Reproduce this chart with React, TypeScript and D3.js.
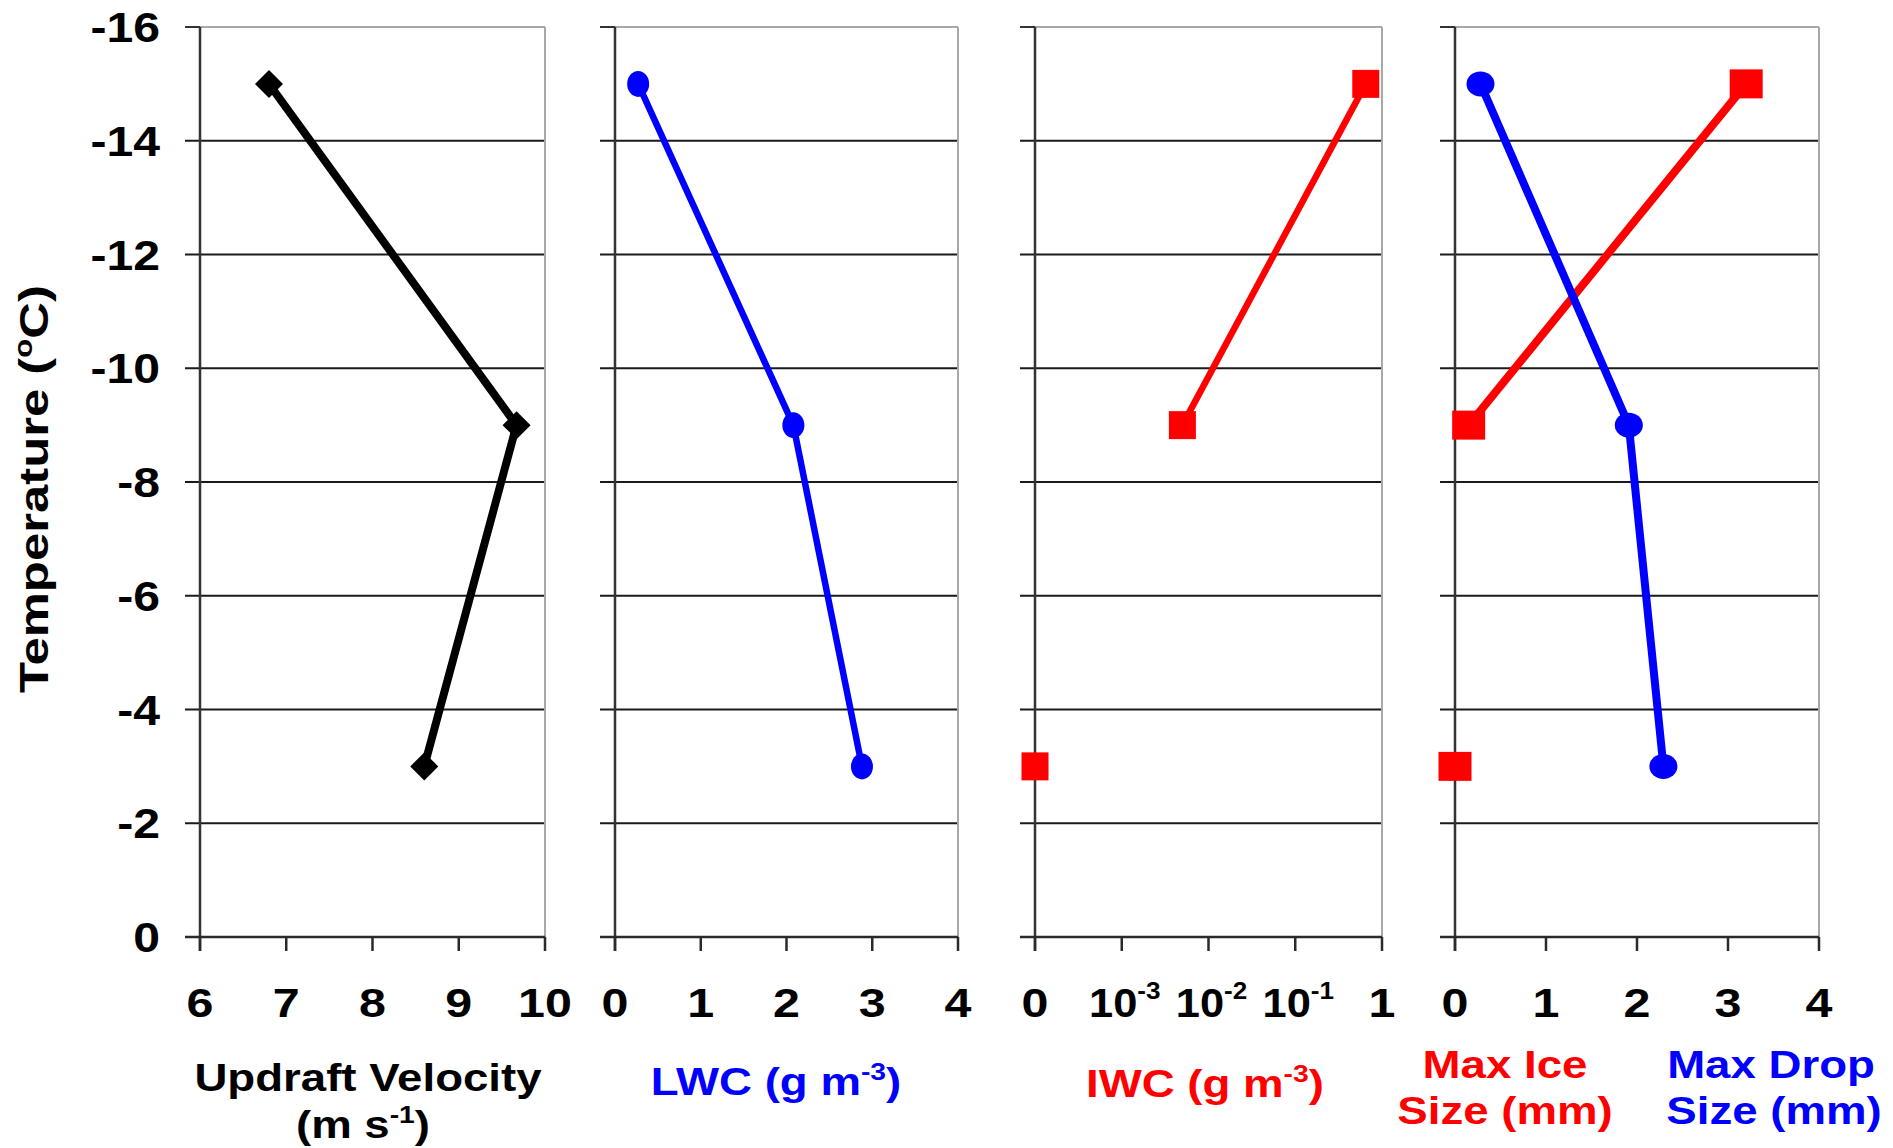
import React from "react";
import * as d3 from "d3";

// ---------- data ----------
const TEMPS = [-15, -9, -3];
const Y_TICKS = [-16, -14, -12, -10, -8, -6, -4, -2, 0];
const GRID_TEMPS = [-14, -12, -10, -8, -6, -4, -2];

const UPDRAFT = [6.8, 9.67, 8.6];
const UPDRAFT_TICKS = [6, 7, 8, 9, 10];

const LWC = [0.27, 2.08, 2.88];
const LWC_TICKS = [0, 1, 2, 3, 4];

const IWC = [0.65, 0.005, 0];
const IWC_TICKS = [0, 0.001, 0.01, 0.1, 1];
const IWC_TICK_LABELS: [string, string][] = [["0", ""], ["10", "-3"], ["10", "-2"], ["10", "-1"], ["1", ""]];

const MAX_ICE = [3.2, 0.15, 0];
const MAX_DROP = [0.28, 1.91, 2.29];
const SIZE_TICKS = [0, 1, 2, 3, 4];

// ---------- layout ----------
const W = 1893;
const H = 1148;
const Y_TOP = 27;
const Y_BOT = 937;
const FONT = "Liberation Sans, Arial, Helvetica, sans-serif";
const BLUE = "#0000ff";
const RED = "#ff0000";

const yScale = d3.scaleLinear().domain([0, -16]).range([Y_BOT, Y_TOP]);

const PANELS = [
  { x0: 200, x1: 545 },
  { x0: 615, x1: 958 },
  { x0: 1035, x1: 1382 },
  { x0: 1455, x1: 1819 },
];

const iwcPos = (v: number) => (v === 0 ? 0 : Math.log10(v) + 4);

function SText(props: any) {
  const { x, y, sx = 1.22, size = 40, fill = "#000", anchor = "middle", children } = props;
  return (
    <g transform={`translate(${x},${y}) scale(${sx},1)`}>
      <text
        x={0}
        y={0}
        textAnchor={anchor}
        fontSize={size}
        fontWeight={700}
        fontFamily={FONT}
        fill={fill}
      >
        {children}
      </text>
    </g>
  );
}

function Sup({ size, text, after, scale = 0.62, rise = 0.4 }: { size: number; text: string; after?: string; scale?: number; rise?: number }) {
  const up = size * rise;
  return (
    <>
      <tspan fontSize={size * scale} dy={-up}>
        {text}
      </tspan>
      {after !== undefined ? <tspan dy={up}>{after}</tspan> : null}
    </>
  );
}

function Frame({ x0, x1, ticks }: { x0: number; x1: number; ticks: number[] }) {
  return (
    <g>
      {GRID_TEMPS.map((t) => (
        <line key={t} x1={x0 - 15} x2={x1} y1={yScale(t)} y2={yScale(t)} stroke="#1a1a1a" strokeWidth={2.2} />
      ))}
      <line x1={x0} x2={x1} y1={Y_TOP} y2={Y_TOP} stroke="#a8a8a8" strokeWidth={2} />
      <line x1={x0 - 15} x2={x0} y1={Y_TOP} y2={Y_TOP} stroke="#333" strokeWidth={2} />
      <line x1={x1} x2={x1} y1={Y_TOP} y2={Y_BOT} stroke="#a8a8a8" strokeWidth={2} />
      <line x1={x0} x2={x0} y1={Y_TOP} y2={Y_BOT + 14} stroke="#333" strokeWidth={2.5} />
      <line x1={x0 - 15} x2={x1} y1={Y_BOT} y2={Y_BOT} stroke="#2a2a2a" strokeWidth={2.5} />
      {ticks.map((tx, i) => (
        <line key={i} x1={tx} x2={tx} y1={Y_BOT} y2={Y_BOT + 14} stroke="#2a2a2a" strokeWidth={2.5} />
      ))}
    </g>
  );
}

function Diamond({ cx, cy, r }: { cx: number; cy: number; r: number }) {
  return <path d={`M${cx},${cy - r} L${cx + r},${cy} L${cx},${cy + r} L${cx - r},${cy} Z`} fill="#000" />;
}

export default function App() {
  const [p1, p2, p3, p4] = PANELS;
  const xUp = d3.scaleLinear().domain([6, 10]).range([p1.x0, p1.x1]);
  const xLwc = d3.scaleLinear().domain([0, 4]).range([p2.x0, p2.x1]);
  const xIwc = d3.scaleLinear().domain([0, 4]).range([p3.x0, p3.x1]);
  const xSize = d3.scaleLinear().domain([0, 4]).range([p4.x0, p4.x1]);

  const upPts = TEMPS.map((t, i) => [xUp(UPDRAFT[i]), yScale(t)] as [number, number]);
  const lwcPts = TEMPS.map((t, i) => [xLwc(LWC[i]), yScale(t)] as [number, number]);
  const iwcPts = TEMPS.map((t, i) => ({ v: IWC[i], p: [xIwc(iwcPos(IWC[i])), yScale(t)] as [number, number] }));
  const icePts = TEMPS.map((t, i) => ({ v: MAX_ICE[i], p: [xSize(MAX_ICE[i]), yScale(t)] as [number, number] }));
  const dropPts = TEMPS.map((t, i) => [xSize(MAX_DROP[i]), yScale(t)] as [number, number]);

  const line = d3.line<[number, number]>();
  const lineDef = d3
    .line<{ v: number; p: [number, number] }>()
    .defined((d) => d.v > 0)
    .x((d) => d.p[0])
    .y((d) => d.p[1]);

  const tickY = 1017;
  const TS = 38;
  const TSX = 1.2;

  return (
    <svg
      width={W}
      height={H}
      viewBox={`0 0 ${W} ${H}`}
      style={{ position: "absolute", left: 0, top: 0, background: "#fff" }}
    >
      <rect x={0} y={0} width={W} height={H} fill="#fff" />

      <Frame x0={p1.x0} x1={p1.x1} ticks={UPDRAFT_TICKS.map((v) => xUp(v))} />
      <Frame x0={p2.x0} x1={p2.x1} ticks={LWC_TICKS.map((v) => xLwc(v))} />
      <Frame x0={p3.x0} x1={p3.x1} ticks={IWC_TICKS.map((v) => xIwc(iwcPos(v)))} />
      <Frame x0={p4.x0} x1={p4.x1} ticks={SIZE_TICKS.map((v) => xSize(v))} />

      {Y_TICKS.map((t) => (
        <SText key={t} x={160} y={yScale(t) + 15} anchor="end" size={43} sx={1.12}>
          {String(t)}
        </SText>
      ))}

      <g transform={`translate(48,489) rotate(-90) scale(1.24,1)`}>
        <text textAnchor="middle" fontSize={41} fontWeight={700} fontFamily={FONT} fill="#000">
          Temperature (<tspan fontSize={25} dy={-16}>o</tspan>
          <tspan dy={16}>C)</tspan>
        </text>
      </g>

      {UPDRAFT_TICKS.map((v) => (
        <SText key={"u" + v} x={xUp(v)} y={tickY} size={41} sx={1.18}>
          {String(v)}
        </SText>
      ))}
      {LWC_TICKS.map((v) => (
        <SText key={"l" + v} x={xLwc(v)} y={tickY} size={41} sx={1.18}>
          {String(v)}
        </SText>
      ))}
      {IWC_TICKS.map((v, i) => (
        <SText key={"i" + i} x={xIwc(iwcPos(v)) + (IWC_TICK_LABELS[i][1] ? 3 : 0)} y={tickY} size={41} sx={IWC_TICK_LABELS[i][1] ? 1.06 : 1.18}>
          {IWC_TICK_LABELS[i][0]}
          {IWC_TICK_LABELS[i][1] ? <Sup size={41} text={IWC_TICK_LABELS[i][1]} scale={0.6} rise={0.45} /> : null}
        </SText>
      ))}
      {SIZE_TICKS.map((v) => (
        <SText key={"s" + v} x={xSize(v)} y={tickY} size={41} sx={1.18}>
          {String(v)}
        </SText>
      ))}

      <SText x={368} y={1091} size={TS} sx={TSX}>
        Updraft Velocity
      </SText>
      <SText x={363} y={1138} size={TS} sx={TSX}>
        (m s<Sup size={TS} text="-1" after=")" />
      </SText>
      <SText x={776} y={1095} size={TS} sx={TSX} fill={BLUE}>
        LWC (g m<Sup size={TS} text="-3" after=")" />
      </SText>
      <SText x={1205} y={1097} size={TS} sx={TSX} fill={RED}>
        IWC (g m<Sup size={TS} text="-3" after=")" />
      </SText>
      <SText x={1505} y={1078} size={TS} sx={TSX} fill={RED}>
        Max Ice
      </SText>
      <SText x={1505} y={1124} size={TS} sx={TSX} fill={RED}>
        Size (mm)
      </SText>
      <SText x={1771} y={1078} size={TS} sx={TSX} fill={BLUE}>
        Max Drop
      </SText>
      <SText x={1774} y={1124} size={TS} sx={TSX} fill={BLUE}>
        Size (mm)
      </SText>

      <path d={line(upPts) || ""} fill="none" stroke="#000" strokeWidth={8} strokeLinejoin="round" />
      {upPts.map((p, i) => (
        <Diamond key={i} cx={p[0]} cy={p[1]} r={14} />
      ))}

      <path d={line(lwcPts) || ""} fill="none" stroke={BLUE} strokeWidth={6.5} strokeLinejoin="round" />
      {lwcPts.map((p, i) => (
        <ellipse key={i} cx={p[0]} cy={p[1]} rx={11} ry={13} fill={BLUE} />
      ))}

      <path d={lineDef(iwcPts) || ""} fill="none" stroke={RED} strokeWidth={6.5} strokeLinejoin="round" />
      {iwcPts.map((d, i) => (
        <rect key={i} x={d.p[0] - 13.5} y={d.p[1] - 14} width={27} height={28} fill={RED} />
      ))}

      <path d={lineDef(icePts) || ""} fill="none" stroke={RED} strokeWidth={8} strokeLinejoin="round" />
      <path d={line(dropPts) || ""} fill="none" stroke={BLUE} strokeWidth={8} strokeLinejoin="round" />
      {icePts.map((d, i) => (
        <rect key={i} x={d.p[0] - 16.5} y={d.p[1] - 14.5} width={33} height={29} fill={RED} />
      ))}
      {dropPts.map((p, i) => (
        <ellipse key={i} cx={p[0]} cy={p[1]} rx={14} ry={12.5} fill={BLUE} />
      ))}
    </svg>
  );
}
